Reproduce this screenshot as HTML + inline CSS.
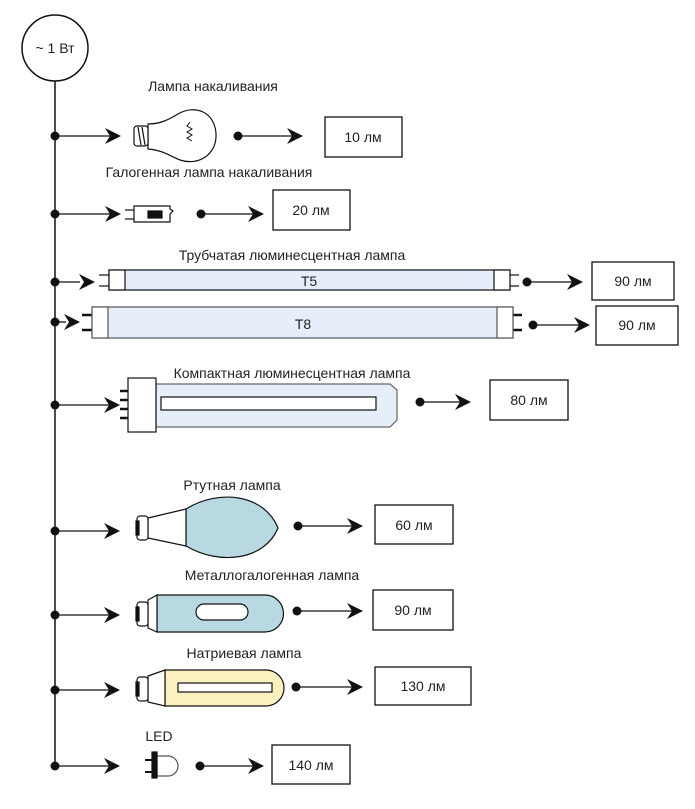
<!DOCTYPE html>
<html><head><meta charset="utf-8"><style>
html,body{margin:0;padding:0;background:#fff;}
svg{display:block;}
text{font-family:"Liberation Sans",sans-serif;font-size:14px;fill:#222;}
</style></head><body>
<svg width="695" height="809" viewBox="0 0 695 809" xmlns="http://www.w3.org/2000/svg">
<defs>
<g id="ah"><path d="M0,0 L-16,-8 L-11,0 L-16,8 Z" fill="#111"/></g>
</defs>
<g stroke="#111" stroke-width="1.5" fill="none">
<circle cx="55" cy="48" r="33" fill="#fff"/>
<line x1="55" y1="81" x2="55" y2="767"/>
</g>
<text x="55" y="53" text-anchor="middle">~ 1 Вт</text>

<!-- branch helper lines -->
<g stroke="#111" stroke-width="1.3">
<line x1="55" y1="136" x2="115" y2="136"/>
<line x1="55" y1="214" x2="115" y2="214"/>
<line x1="55" y1="282" x2="80" y2="282"/>
<line x1="55" y1="322" x2="66" y2="322"/>
<line x1="55" y1="405" x2="115" y2="405"/>
<line x1="55" y1="531" x2="115" y2="531"/>
<line x1="55" y1="615" x2="115" y2="615"/>
<line x1="55" y1="690" x2="115" y2="690"/>
<line x1="55" y1="766" x2="115" y2="766"/>
<!-- outputs -->
<line x1="238" y1="136" x2="298" y2="136"/>
<line x1="201" y1="214" x2="258" y2="214"/>
<line x1="527" y1="282" x2="578" y2="282"/>
<line x1="533" y1="325" x2="585" y2="325"/>
<line x1="420" y1="402" x2="465" y2="402"/>
<line x1="298" y1="526" x2="358" y2="526"/>
<line x1="297" y1="611" x2="358" y2="611"/>
<line x1="296" y1="687" x2="358" y2="687"/>
<line x1="200" y1="766" x2="258" y2="766"/>
</g>
<g fill="#111">
<circle cx="55" cy="136" r="4.5"/><circle cx="55" cy="214" r="4.5"/><circle cx="55" cy="282" r="4.5"/><circle cx="55" cy="322" r="4.5"/><circle cx="55" cy="405" r="4.5"/><circle cx="55" cy="531" r="4.5"/><circle cx="55" cy="615" r="4.5"/><circle cx="55" cy="690" r="4.5"/><circle cx="55" cy="766" r="4.5"/>
<circle cx="238" cy="136" r="4.5"/><circle cx="201" cy="214" r="4.5"/><circle cx="527" cy="282" r="4.5"/><circle cx="533" cy="325" r="4.5"/><circle cx="420" cy="402" r="4.5"/><circle cx="298" cy="526" r="4.5"/><circle cx="297" cy="611" r="4.5"/><circle cx="296" cy="687" r="4.5"/><circle cx="200" cy="766" r="4.5"/>
</g>
<use href="#ah" x="121" y="136"/><use href="#ah" x="121" y="214"/><use href="#ah" x="95" y="282"/><use href="#ah" x="80" y="322"/><use href="#ah" x="120" y="405"/><use href="#ah" x="120" y="531"/><use href="#ah" x="120" y="615"/><use href="#ah" x="120" y="690"/><use href="#ah" x="120" y="766"/>
<use href="#ah" x="303" y="136"/><use href="#ah" x="264" y="214"/><use href="#ah" x="583" y="282"/><use href="#ah" x="590" y="325"/><use href="#ah" x="471" y="402"/><use href="#ah" x="363" y="526"/><use href="#ah" x="363" y="611"/><use href="#ah" x="363" y="687"/><use href="#ah" x="264" y="766"/>

<!-- boxes -->
<g fill="#fff" stroke="#111" stroke-width="1.3">
<rect x="325" y="117" width="77" height="40"/>
<rect x="273" y="190" width="77" height="40"/>
<rect x="592" y="262" width="82" height="38"/>
<rect x="596" y="306" width="82" height="39"/>
<rect x="490" y="380" width="78" height="40"/>
<rect x="375" y="505" width="78" height="39"/>
<rect x="373" y="590" width="80" height="40"/>
<rect x="375" y="667" width="96" height="38"/>
<rect x="272" y="745" width="78" height="39"/>
</g>
<text x="363" y="142" text-anchor="middle">10 лм</text>
<text x="311" y="215" text-anchor="middle">20 лм</text>
<text x="633" y="286" text-anchor="middle">90 лм</text>
<text x="637" y="330" text-anchor="middle">90 лм</text>
<text x="529" y="405" text-anchor="middle">80 лм</text>
<text x="414" y="530" text-anchor="middle">60 лм</text>
<text x="413" y="615" text-anchor="middle">90 лм</text>
<text x="423" y="691" text-anchor="middle">130 лм</text>
<text x="311" y="770" text-anchor="middle">140 лм</text>

<!-- labels -->
<text x="213" y="91" text-anchor="middle">Лампа накаливания</text>
<text x="209" y="177" text-anchor="middle">Галогенная лампа накаливания</text>
<text x="292" y="260" text-anchor="middle">Трубчатая люминесцентная лампа</text>
<text x="292" y="378" text-anchor="middle">Компактная люминесцентная лампа</text>
<text x="232" y="490" text-anchor="middle">Ртутная лампа</text>
<text x="272" y="580" text-anchor="middle">Металлогалогенная лампа</text>
<text x="244" y="658" text-anchor="middle">Натриевая лампа</text>
<text x="159" y="741" text-anchor="middle">LED</text>

<!-- incandescent bulb -->
<g stroke="#111" stroke-width="1.2" fill="#fff">
<path d="M148,124 C160,124 168,120 178,114 C195,104 215,112 216,134 C217,155 198,166 180,160 C170,156 162,150 148,149 Z"/>
<rect x="134" y="126" width="14" height="20" rx="3"/>
<path d="M138,127 L141,145 M142,127 L145,145" />
<path d="M190,122 l-3,4 l5,3 l-5,3 l5,3 l-5,3 l5,3" fill="none" stroke-width="1"/>
</g>
<!-- halogen -->
<g stroke="#111" stroke-width="1.2">
<line x1="125" y1="210" x2="134" y2="210"/><line x1="125" y1="219" x2="134" y2="219"/>
<path d="M134,206 L170,206 L170,209 L173,211 L170,214 L170,222 L134,222 Z" fill="#fff"/>
<rect x="148" y="211" width="14" height="7" fill="#111"/>
</g>
<!-- T5 -->
<g stroke="#111" stroke-width="1.2">
<line x1="99" y1="275" x2="109" y2="275"/><line x1="99" y1="286" x2="109" y2="286"/>
<line x1="510" y1="275" x2="519" y2="275"/><line x1="510" y1="286" x2="519" y2="286"/>
<rect x="109" y="270" width="401" height="20" fill="#e6eefa"/>
<rect x="109" y="270" width="16" height="20" fill="#fff"/>
<rect x="494" y="270" width="16" height="20" fill="#fff"/>
</g>
<text x="309" y="286" text-anchor="middle">T5</text>
<!-- T8 -->
<g stroke="#111" stroke-width="1.2">
<line x1="82" y1="315" x2="92" y2="315" stroke-width="2.5"/><line x1="82" y1="330" x2="92" y2="330" stroke-width="2.5"/>
<line x1="513" y1="315" x2="522" y2="315" stroke-width="2.5"/><line x1="513" y1="330" x2="522" y2="330" stroke-width="2.5"/>
<rect x="92" y="307" width="421" height="31" fill="#e6eefa" stroke="#555"/>
<rect x="92" y="307" width="16" height="31" fill="#fff" stroke="#555"/>
<rect x="497" y="307" width="16" height="31" fill="#fff" stroke="#555"/>
</g>
<text x="303" y="329" text-anchor="middle">T8</text>
<!-- CFL -->
<g stroke="#111" stroke-width="1.2">
<g stroke-width="2.5"><line x1="120" y1="391" x2="128" y2="391"/><line x1="120" y1="400" x2="128" y2="400"/><line x1="120" y1="409" x2="128" y2="409"/><line x1="120" y1="418" x2="128" y2="418"/></g>
<path d="M156,384 L390,384 L397,390 L397,420 L390,427 L156,427 Z" fill="#e6eefa" stroke="#666"/>
<rect x="161" y="397" width="215" height="13" fill="#fff"/>
<rect x="128" y="378" width="28" height="54" fill="#fff"/>
</g>
<!-- mercury -->
<g stroke="#111" stroke-width="1.2">
<path d="M186,509 C220,488 265,495 278,528 C265,560 220,566 186,546 Z" fill="#b8d8e2"/>
<path d="M148,518 L186,509 L186,546 L148,538 Z" fill="#fff"/>
<rect x="137" y="516" width="11" height="24" rx="3" fill="#fff"/>
<rect x="136" y="521" width="3" height="14" fill="#111"/>
</g>
<!-- metal halide -->
<g stroke="#111" stroke-width="1.2">
<path d="M157,595 L265,595 A18,18 0 0 1 265,632 L157,632 Z" fill="#b8d8e2"/>
<path d="M148,600 L157,595 L157,632 L148,628 Z" fill="#fff"/>
<rect x="137" y="602" width="11" height="24" rx="3" fill="#fff"/>
<rect x="136" y="607" width="3" height="14" fill="#111"/>
<rect x="196" y="604" width="52" height="16" rx="8" fill="#fff"/>
</g>
<!-- sodium -->
<g stroke="#111" stroke-width="1.2">
<path d="M165,670 L266,670 A18,18 0 0 1 266,706 L165,706 Z" fill="#fbf1c0"/>
<path d="M148,676 L165,670 L165,706 L148,702 Z" fill="#fff"/>
<rect x="137" y="677" width="11" height="24" rx="3" fill="#fff"/>
<rect x="136" y="682" width="3" height="14" fill="#111"/>
<rect x="178" y="683" width="94" height="9" fill="#fff"/>
</g>
<!-- LED -->
<g stroke="#111" stroke-width="1.2">
<path d="M157,756 L168,756 A10,10 0 0 1 168,776 L157,776 Z" fill="#fff" stroke="#555"/>
<rect x="152" y="752" width="5" height="26" fill="#111"/>
<line x1="145" y1="760" x2="152" y2="760" stroke-width="2"/><line x1="145" y1="772" x2="152" y2="772" stroke-width="2"/>
</g>
</svg>
</body></html>
